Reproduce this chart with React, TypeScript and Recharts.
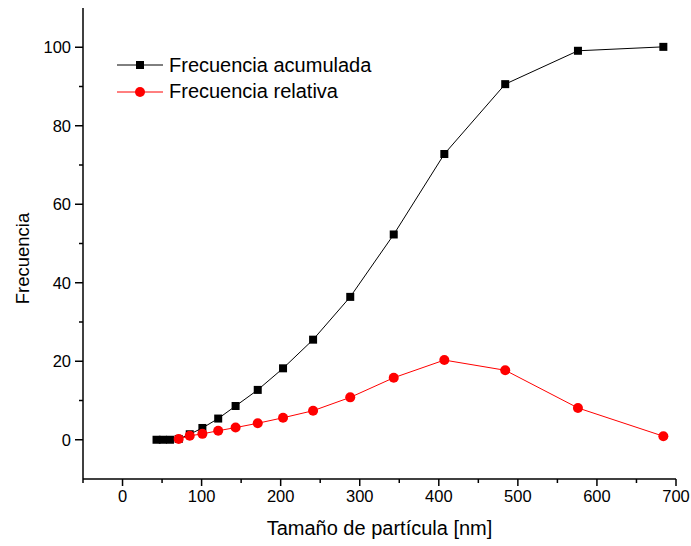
import { LineChart, Line, XAxis, YAxis, Legend } from "recharts";

// particle size bins (nm)
const sizes = [43, 51, 60, 71, 85, 101, 121, 143, 171, 203, 241, 288, 343, 407, 484, 576, 684];
const acumulada = [0, 0, 0, 0.2, 1.4, 3.0, 5.4, 8.6, 12.7, 18.2, 25.5, 36.4, 52.3, 72.8, 90.6, 99.1, 100.1];
const relativa = [null, null, null, 0.2, 1.0, 1.5, 2.3, 3.1, 4.2, 5.6, 7.4, 10.8, 15.8, 20.3, 17.7, 8.1, 0.9];

const xTicks = [-50, 0, 50, 100, 150, 200, 250, 300, 350, 400, 450, 500, 550, 600, 650, 700];
const yTicks = [0, 10, 20, 30, 40, 50, 60, 70, 80, 90, 100];

const seriesNames = ["Frecuencia acumulada", "Frecuencia relativa"];

const data = sizes.map((x, i) => ({ x, acum: acumulada[i], rel: relativa[i] }));

const FONT = '"Liberation Sans", Arial, sans-serif';

const YTick = (props: any) => {
    const { x, y, payload } = props;
    const major = payload.value % 20 === 0;
    return (
        <g>
            <line x1={x} x2={x - (major ? 8 : 4)} y1={y} y2={y} stroke="#000" strokeWidth={1.5} />
            {major && (
                <text x={x - 12} y={y} dy="0.36em" textAnchor="end" fontSize={16.5} fontFamily={FONT} fill="#000">
                    {payload.value}
                </text>
            )}
        </g>
    );
};

const XTick = (props: any) => {
    const { x, y, payload } = props;
    const major = payload.value % 100 === 0;
    return (
        <g>
            <line x1={x} x2={x} y1={y} y2={y + (major ? 7 : 4)} stroke="#000" strokeWidth={1.5} />
            {major && (
                <text x={x} y={y + 23} textAnchor="middle" fontSize={16.5} fontFamily={FONT} fill="#000">
                    {payload.value}
                </text>
            )}
        </g>
    );
};

const Square = (props: any) => {
    const { cx, cy, index } = props;
    if (cx == null || cy == null) return <g key={"s" + index} />;
    return <rect key={"s" + index} x={cx - 4} y={cy - 4} width={8} height={8} fill="#000" />;
};

const Circle = (props: any) => {
    const { cx, cy, index } = props;
    if (cx == null || cy == null) return <g key={"c" + index} />;
    return <circle key={"c" + index} cx={cx} cy={cy} r={5} fill="#ff0000" />;
};

const LegendBox = () => (
    <div style={{ fontFamily: FONT, fontSize: 20, color: "#000" }}>
        {seriesNames.map((name, i) => (
            <div key={name} style={{ display: "flex", alignItems: "center", height: 26.6 }}>
                <svg width={52} height={20} style={{ display: "block" }}>
                    <line x1={0} x2={46} y1={10} y2={10} stroke={i === 0 ? "#000" : "#ff0000"} strokeWidth={1} />
                    {i === 0 ? (
                        <rect x={19} y={6} width={8} height={8} fill="#000" />
                    ) : (
                        <circle cx={23} cy={10} r={5} fill="#ff0000" />
                    )}
                </svg>
                <span style={{ whiteSpace: "nowrap" }}>{name}</span>
            </div>
        ))}
    </div>
);

export default function App() {
    return (
        <div style={{ position: "absolute", left: 0, top: 0, background: "#fff" }}>
            <LineChart width={691} height={546} data={data} margin={{ top: 8, right: 15, left: 0, bottom: 0 }}>
                <XAxis
                    type="number"
                    dataKey="x"
                    domain={[-50, 700]}
                    ticks={xTicks}
                    interval={0}
                    height={67}
                    tickSize={0}
                    tickMargin={0}
                    tickLine={false}
                    tick={<XTick />}
                    axisLine={{ stroke: "#000", strokeWidth: 1.5 }}
                    allowDataOverflow
                    label={{
                        value: "Tamaño de partícula [nm]",
                        position: "insideBottom",
                        offset: 11,
                        style: { fontFamily: FONT, fontSize: 20, fill: "#000" },
                    }}
                />
                <YAxis
                    type="number"
                    domain={[-10, 110]}
                    ticks={yTicks}
                    interval={0}
                    width={83}
                    tickSize={0}
                    tickMargin={0}
                    tickLine={false}
                    tick={<YTick />}
                    axisLine={{ stroke: "#000", strokeWidth: 1.5 }}
                    allowDataOverflow
                    label={{
                        value: "Frecuencia",
                        angle: -90,
                        position: "center",
                        dx: -19,
                        dy: 15,
                        style: { fontFamily: FONT, fontSize: 18.5, fill: "#000", textAnchor: "middle" },
                    }}
                />
                <Legend
                    layout="vertical"
                    align="center"
                    verticalAlign="middle"
                    content={<LegendBox />}
                    wrapperStyle={{ top: 52, left: 117, width: 320 }}
                />
                <Line
                    dataKey="acum"
                    stroke="#000"
                    strokeWidth={1}
                    dot={<Square />}
                    activeDot={false}
                    isAnimationActive={false}
                />
                <Line
                    dataKey="rel"
                    stroke="#ff0000"
                    strokeWidth={1}
                    dot={<Circle />}
                    activeDot={false}
                    isAnimationActive={false}
                />
            </LineChart>
        </div>
    );
}
